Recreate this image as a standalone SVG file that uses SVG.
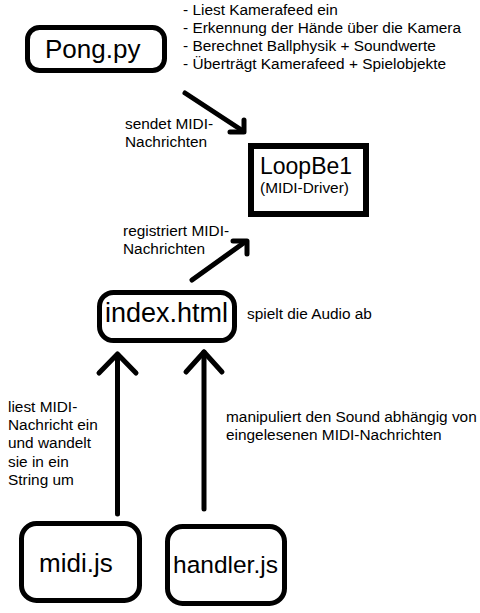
<svg xmlns="http://www.w3.org/2000/svg" width="480" height="613" viewBox="0 0 480 613">
<style>
.box{fill:#fff;stroke:#000;stroke-width:5}
.big{font-family:"Liberation Sans",Arial,sans-serif;fill:#000}
.lbl{font-family:"Liberation Sans",Arial,sans-serif;font-size:15.4px;fill:#000}
.arr{fill:none;stroke:#000;stroke-width:5;stroke-linecap:round;stroke-linejoin:round}
</style>
<rect width="480" height="613" fill="#fff"/>
<g id="pong">
<rect class="box" x="27.5" y="27.5" width="137" height="43" rx="12"/>
<text class="big" x="45" y="58" font-size="26">Pong.py</text>
</g>
<g id="pong-notes">
<text class="lbl" x="183" y="15">- Liest Kamerafeed ein</text>
<text class="lbl" x="183" y="33">- Erkennung der Hände über die Kamera</text>
<text class="lbl" x="183" y="51">- Berechnet Ballphysik + Soundwerte</text>
<text class="lbl" x="183" y="69">- Überträgt Kamerafeed + Spielobjekte</text>
</g>
<g id="loopbe1">
<rect x="251" y="146" width="115" height="68" fill="#fff" stroke="#000" stroke-width="6"/>
<text class="big" x="260" y="174" font-size="23">LoopBe1</text>
<text class="lbl" x="260" y="193">(MIDI-Driver)</text>
</g>
<g id="index">
<rect class="box" x="99.5" y="292.5" width="135" height="48" rx="14"/>
<text class="big" x="105" y="322" font-size="27">index.html</text>
<text class="lbl" x="247" y="319">spielt die Audio ab</text>
</g>
<g id="midi">
<rect class="box" x="21.5" y="523.5" width="118" height="77" rx="15"/>
<text class="big" x="39" y="572" font-size="26">midi.js</text>
</g>
<g id="handler">
<rect class="box" x="167.5" y="526.5" width="117" height="77" rx="15"/>
<text class="big" x="173" y="573" font-size="24.5">handler.js</text>
</g>
<g id="connectors">
<line class="arr" x1="185" y1="93" x2="243" y2="131"/>
<polyline class="arr" points="230,132 244,132 244,120"/>
<text class="lbl" x="125" y="129">sendet MIDI-</text>
<text class="lbl" x="125" y="147">Nachrichten</text>
<line class="arr" x1="192" y1="280" x2="245" y2="242"/>
<polyline class="arr" points="233,241 247,241 247,254"/>
<text class="lbl" x="123" y="236">registriert MIDI-</text>
<text class="lbl" x="123" y="254">Nachrichten</text>
<line class="arr" x1="117.5" y1="355" x2="117.5" y2="514"/>
<polyline class="arr" points="99,373 117.5,354 136,373"/>
<line class="arr" x1="204" y1="352" x2="204" y2="509"/>
<polyline class="arr" points="186,372 204,352 222,372"/>
<text class="lbl" x="8" y="412">liest MIDI-</text>
<text class="lbl" x="8" y="430">Nachricht ein</text>
<text class="lbl" x="8" y="448">und wandelt</text>
<text class="lbl" x="8" y="467">sie in ein</text>
<text class="lbl" x="8" y="485">String um</text>
<text class="lbl" x="226" y="422">manipuliert den Sound abhängig von</text>
<text class="lbl" x="226" y="440">eingelesenen MIDI-Nachrichten</text>
</g>
</svg>
